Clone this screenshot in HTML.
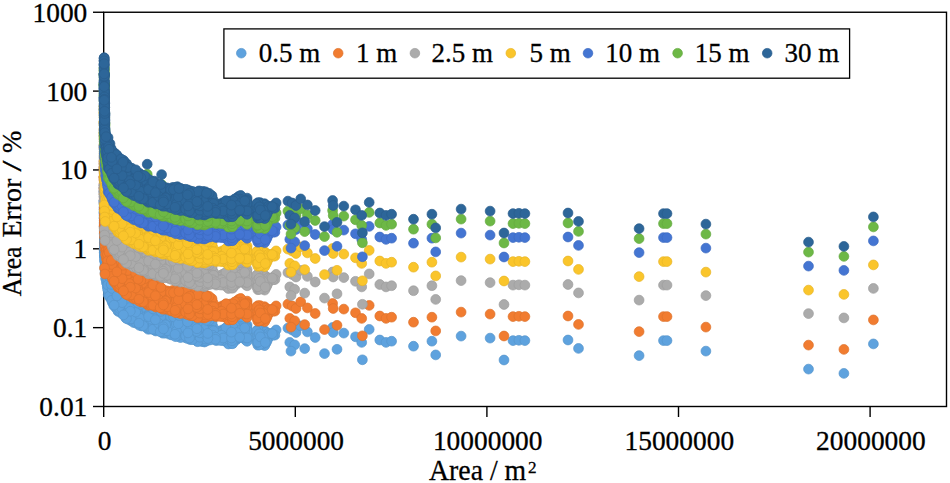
<!DOCTYPE html>
<html><head><meta charset="utf-8"><title>Area Error</title>
<style>
html,body{margin:0;padding:0;background:#fff}
svg{display:block}
text{font-family:"Liberation Serif",serif;fill:#000;stroke:#000;stroke-width:.3px}
circle{stroke-width:.7px}
</style></head><body>
<svg width="950" height="483" viewBox="0 0 950 483">
<rect width="950" height="483" fill="#fff"/>
<defs><g id="p"><circle cx="144.9" cy="192.9" r="4.9"/><circle cx="167.6" cy="197.7" r="4.9"/><circle cx="274.5" cy="205.0" r="4.9"/><circle cx="267.5" cy="212.2" r="4.9"/><circle cx="190.2" cy="212.6" r="4.9"/><circle cx="150.5" cy="200.1" r="4.9"/><circle cx="228.8" cy="205.6" r="4.9"/><circle cx="122.4" cy="160.6" r="4.9"/><circle cx="202.7" cy="202.7" r="4.9"/><circle cx="239.1" cy="202.5" r="4.9"/><circle cx="144.5" cy="180.7" r="4.9"/><circle cx="104.9" cy="112.7" r="4.9"/><circle cx="192.6" cy="202.6" r="4.9"/><circle cx="194.8" cy="192.7" r="4.9"/><circle cx="208.0" cy="213.3" r="4.9"/><circle cx="157.2" cy="198.7" r="4.9"/><circle cx="144.5" cy="183.7" r="4.9"/><circle cx="124.3" cy="167.3" r="4.9"/><circle cx="105.0" cy="146.0" r="4.9"/><circle cx="152.9" cy="194.6" r="4.9"/><circle cx="205.9" cy="201.2" r="4.9"/><circle cx="104.2" cy="75.2" r="4.9"/><circle cx="145.9" cy="189.0" r="4.9"/><circle cx="104.5" cy="94.3" r="4.9"/><circle cx="269.0" cy="210.0" r="4.9"/><circle cx="181.6" cy="190.3" r="4.9"/><circle cx="208.0" cy="208.1" r="4.9"/><circle cx="152.5" cy="190.0" r="4.9"/><circle cx="115.0" cy="165.6" r="4.9"/><circle cx="104.3" cy="103.6" r="4.9"/><circle cx="147.4" cy="192.9" r="4.9"/><circle cx="104.1" cy="73.4" r="4.9"/><circle cx="267.3" cy="210.6" r="4.9"/><circle cx="104.4" cy="93.4" r="4.9"/><circle cx="108.3" cy="156.2" r="4.9"/><circle cx="127.1" cy="177.3" r="4.9"/><circle cx="225.0" cy="211.1" r="4.9"/><circle cx="226.9" cy="212.0" r="4.9"/><circle cx="104.2" cy="85.6" r="4.9"/><circle cx="104.3" cy="105.2" r="4.9"/><circle cx="128.0" cy="182.5" r="4.9"/><circle cx="119.3" cy="179.6" r="4.9"/><circle cx="154.7" cy="186.5" r="4.9"/><circle cx="174.5" cy="203.4" r="4.9"/><circle cx="150.9" cy="196.7" r="4.9"/><circle cx="124.5" cy="177.2" r="4.9"/><circle cx="110.0" cy="143.7" r="4.9"/><circle cx="193.6" cy="200.6" r="4.9"/><circle cx="122.9" cy="169.6" r="4.9"/><circle cx="104.9" cy="122.8" r="4.9"/><circle cx="148.3" cy="202.3" r="4.9"/><circle cx="126.1" cy="175.2" r="4.9"/><circle cx="117.8" cy="166.1" r="4.9"/><circle cx="171.7" cy="200.2" r="4.9"/><circle cx="113.7" cy="178.6" r="4.9"/><circle cx="122.4" cy="178.7" r="4.9"/><circle cx="104.5" cy="130.4" r="4.9"/><circle cx="114.0" cy="168.2" r="4.9"/><circle cx="116.6" cy="160.5" r="4.9"/><circle cx="159.4" cy="193.9" r="4.9"/><circle cx="173.6" cy="191.5" r="4.9"/><circle cx="168.9" cy="205.6" r="4.9"/><circle cx="112.9" cy="156.3" r="4.9"/><circle cx="227.2" cy="205.1" r="4.9"/><circle cx="109.1" cy="167.0" r="4.9"/><circle cx="115.4" cy="163.2" r="4.9"/><circle cx="238.3" cy="199.1" r="4.9"/><circle cx="245.7" cy="213.0" r="4.9"/><circle cx="260.9" cy="204.9" r="4.9"/><circle cx="176.1" cy="192.8" r="4.9"/><circle cx="183.8" cy="202.0" r="4.9"/><circle cx="116.2" cy="167.2" r="4.9"/><circle cx="138.1" cy="183.6" r="4.9"/><circle cx="263.2" cy="205.0" r="4.9"/><circle cx="233.9" cy="210.5" r="4.9"/><circle cx="224.0" cy="209.4" r="4.9"/><circle cx="143.7" cy="194.8" r="4.9"/><circle cx="161.2" cy="193.4" r="4.9"/><circle cx="126.2" cy="181.2" r="4.9"/><circle cx="104.1" cy="88.1" r="4.9"/><circle cx="176.9" cy="206.1" r="4.9"/><circle cx="134.8" cy="183.0" r="4.9"/><circle cx="210.2" cy="208.1" r="4.9"/><circle cx="178.1" cy="193.0" r="4.9"/><circle cx="109.3" cy="159.8" r="4.9"/><circle cx="212.7" cy="212.2" r="4.9"/><circle cx="270.3" cy="208.2" r="4.9"/><circle cx="109.5" cy="158.1" r="4.9"/><circle cx="264.9" cy="209.6" r="4.9"/><circle cx="257.9" cy="205.7" r="4.9"/><circle cx="276.1" cy="202.9" r="4.9"/><circle cx="157.5" cy="186.3" r="4.9"/><circle cx="143.1" cy="192.9" r="4.9"/><circle cx="203.5" cy="210.8" r="4.9"/><circle cx="104.9" cy="118.9" r="4.9"/><circle cx="133.0" cy="192.8" r="4.9"/><circle cx="258.2" cy="210.5" r="4.9"/><circle cx="116.2" cy="178.3" r="4.9"/><circle cx="170.1" cy="198.5" r="4.9"/><circle cx="227.2" cy="201.5" r="4.9"/><circle cx="204.7" cy="208.5" r="4.9"/><circle cx="262.6" cy="207.4" r="4.9"/><circle cx="104.6" cy="97.2" r="4.9"/><circle cx="127.8" cy="180.7" r="4.9"/><circle cx="175.3" cy="195.5" r="4.9"/><circle cx="104.2" cy="93.5" r="4.9"/><circle cx="110.3" cy="171.0" r="4.9"/><circle cx="243.8" cy="210.3" r="4.9"/><circle cx="233.4" cy="205.1" r="4.9"/><circle cx="243.5" cy="206.2" r="4.9"/><circle cx="104.5" cy="123.7" r="4.9"/><circle cx="168.5" cy="191.1" r="4.9"/><circle cx="150.2" cy="186.3" r="4.9"/><circle cx="125.2" cy="184.5" r="4.9"/><circle cx="120.6" cy="170.0" r="4.9"/><circle cx="189.9" cy="190.9" r="4.9"/><circle cx="107.1" cy="142.2" r="4.9"/><circle cx="131.0" cy="193.7" r="4.9"/><circle cx="236.3" cy="212.9" r="4.9"/><circle cx="197.3" cy="209.6" r="4.9"/><circle cx="104.9" cy="120.5" r="4.9"/><circle cx="154.3" cy="181.1" r="4.9"/><circle cx="257.2" cy="205.3" r="4.9"/><circle cx="204.7" cy="192.3" r="4.9"/><circle cx="118.0" cy="171.3" r="4.9"/><circle cx="239.0" cy="197.1" r="4.9"/><circle cx="194.3" cy="203.3" r="4.9"/><circle cx="107.5" cy="139.5" r="4.9"/><circle cx="162.1" cy="197.4" r="4.9"/><circle cx="118.6" cy="164.2" r="4.9"/><circle cx="165.5" cy="206.2" r="4.9"/><circle cx="104.9" cy="116.1" r="4.9"/><circle cx="104.6" cy="103.5" r="4.9"/><circle cx="141.3" cy="188.5" r="4.9"/><circle cx="131.9" cy="187.8" r="4.9"/><circle cx="191.2" cy="196.7" r="4.9"/><circle cx="104.1" cy="123.0" r="4.9"/><circle cx="104.1" cy="84.7" r="4.9"/><circle cx="120.2" cy="166.1" r="4.9"/><circle cx="208.5" cy="204.0" r="4.9"/><circle cx="151.8" cy="188.1" r="4.9"/><circle cx="124.8" cy="162.4" r="4.9"/><circle cx="107.3" cy="159.5" r="4.9"/><circle cx="118.7" cy="168.8" r="4.9"/><circle cx="257.9" cy="208.8" r="4.9"/><circle cx="274.9" cy="208.1" r="4.9"/><circle cx="186.5" cy="199.3" r="4.9"/><circle cx="170.8" cy="204.9" r="4.9"/><circle cx="122.5" cy="166.1" r="4.9"/><circle cx="142.2" cy="185.4" r="4.9"/><circle cx="114.1" cy="158.3" r="4.9"/><circle cx="104.3" cy="107.8" r="4.9"/><circle cx="227.1" cy="215.1" r="4.9"/><circle cx="131.9" cy="174.3" r="4.9"/><circle cx="192.4" cy="191.4" r="4.9"/><circle cx="237.4" cy="209.0" r="4.9"/><circle cx="104.3" cy="80.4" r="4.9"/><circle cx="119.9" cy="175.3" r="4.9"/><circle cx="147.2" cy="200.9" r="4.9"/><circle cx="200.6" cy="194.0" r="4.9"/><circle cx="180.5" cy="204.4" r="4.9"/><circle cx="238.5" cy="196.5" r="4.9"/><circle cx="216.0" cy="204.6" r="4.9"/><circle cx="104.6" cy="113.6" r="4.9"/><circle cx="201.5" cy="209.1" r="4.9"/><circle cx="187.7" cy="192.0" r="4.9"/><circle cx="163.6" cy="205.6" r="4.9"/><circle cx="104.4" cy="96.4" r="4.9"/><circle cx="127.0" cy="165.5" r="4.9"/><circle cx="133.6" cy="195.5" r="4.9"/><circle cx="264.5" cy="203.7" r="4.9"/><circle cx="104.1" cy="65.1" r="4.9"/><circle cx="173.9" cy="187.7" r="4.9"/><circle cx="150.5" cy="198.5" r="4.9"/><circle cx="236.6" cy="198.2" r="4.9"/><circle cx="104.9" cy="134.9" r="4.9"/><circle cx="235.2" cy="204.6" r="4.9"/><circle cx="115.8" cy="176.7" r="4.9"/><circle cx="109.5" cy="151.8" r="4.9"/><circle cx="215.1" cy="206.4" r="4.9"/><circle cx="171.7" cy="197.7" r="4.9"/><circle cx="216.2" cy="213.6" r="4.9"/><circle cx="124.4" cy="179.4" r="4.9"/><circle cx="104.5" cy="123.8" r="4.9"/><circle cx="164.0" cy="197.8" r="4.9"/><circle cx="212.0" cy="197.4" r="4.9"/><circle cx="177.6" cy="191.2" r="4.9"/><circle cx="153.8" cy="197.7" r="4.9"/><circle cx="118.0" cy="177.0" r="4.9"/><circle cx="207.7" cy="195.0" r="4.9"/><circle cx="241.1" cy="197.2" r="4.9"/><circle cx="128.4" cy="192.3" r="4.9"/><circle cx="257.9" cy="211.9" r="4.9"/><circle cx="129.1" cy="177.0" r="4.9"/><circle cx="122.1" cy="172.6" r="4.9"/><circle cx="186.6" cy="196.7" r="4.9"/><circle cx="155.1" cy="200.9" r="4.9"/><circle cx="113.4" cy="172.9" r="4.9"/><circle cx="215.1" cy="208.0" r="4.9"/><circle cx="138.2" cy="191.2" r="4.9"/><circle cx="128.9" cy="187.5" r="4.9"/><circle cx="106.4" cy="155.7" r="4.9"/><circle cx="139.5" cy="188.2" r="4.9"/><circle cx="263.7" cy="214.7" r="4.9"/><circle cx="242.9" cy="200.8" r="4.9"/><circle cx="204.5" cy="215.0" r="4.9"/><circle cx="141.6" cy="199.0" r="4.9"/><circle cx="153.1" cy="200.4" r="4.9"/><circle cx="202.3" cy="212.6" r="4.9"/><circle cx="188.8" cy="198.8" r="4.9"/><circle cx="145.8" cy="177.3" r="4.9"/><circle cx="190.1" cy="203.1" r="4.9"/><circle cx="149.5" cy="182.4" r="4.9"/><circle cx="178.6" cy="194.6" r="4.9"/><circle cx="104.2" cy="85.5" r="4.9"/><circle cx="141.7" cy="190.3" r="4.9"/><circle cx="104.2" cy="82.1" r="4.9"/><circle cx="222.4" cy="202.9" r="4.9"/><circle cx="108.7" cy="145.2" r="4.9"/><circle cx="118.1" cy="184.4" r="4.9"/><circle cx="211.3" cy="201.1" r="4.9"/><circle cx="105.5" cy="139.6" r="4.9"/><circle cx="259.0" cy="204.1" r="4.9"/><circle cx="104.6" cy="123.2" r="4.9"/><circle cx="195.4" cy="207.4" r="4.9"/><circle cx="187.9" cy="208.7" r="4.9"/><circle cx="134.5" cy="173.2" r="4.9"/><circle cx="208.1" cy="200.2" r="4.9"/><circle cx="104.3" cy="77.1" r="4.9"/><circle cx="159.4" cy="200.0" r="4.9"/><circle cx="164.1" cy="190.4" r="4.9"/><circle cx="106.7" cy="145.1" r="4.9"/><circle cx="150.5" cy="180.5" r="4.9"/><circle cx="188.8" cy="200.9" r="4.9"/><circle cx="180.2" cy="198.9" r="4.9"/><circle cx="247.1" cy="212.0" r="4.9"/><circle cx="234.5" cy="202.8" r="4.9"/><circle cx="104.2" cy="57.7" r="4.9"/><circle cx="122.6" cy="183.2" r="4.9"/><circle cx="143.4" cy="187.2" r="4.9"/><circle cx="219.5" cy="211.3" r="4.9"/><circle cx="184.2" cy="204.9" r="4.9"/><circle cx="260.1" cy="202.6" r="4.9"/><circle cx="125.5" cy="182.9" r="4.9"/><circle cx="109.2" cy="165.4" r="4.9"/><circle cx="147.8" cy="182.6" r="4.9"/><circle cx="180.5" cy="207.2" r="4.9"/><circle cx="131.9" cy="170.8" r="4.9"/><circle cx="157.6" cy="184.6" r="4.9"/><circle cx="162.2" cy="195.0" r="4.9"/><circle cx="239.2" cy="204.7" r="4.9"/><circle cx="160.3" cy="203.0" r="4.9"/><circle cx="104.5" cy="114.9" r="4.9"/><circle cx="231.8" cy="203.4" r="4.9"/><circle cx="145.1" cy="190.8" r="4.9"/><circle cx="200.5" cy="196.4" r="4.9"/><circle cx="139.7" cy="180.5" r="4.9"/><circle cx="123.5" cy="185.8" r="4.9"/><circle cx="129.9" cy="185.9" r="4.9"/><circle cx="259.4" cy="214.5" r="4.9"/><circle cx="261.9" cy="212.0" r="4.9"/><circle cx="111.2" cy="152.9" r="4.9"/><circle cx="126.6" cy="163.8" r="4.9"/><circle cx="247.1" cy="198.1" r="4.9"/><circle cx="131.2" cy="181.9" r="4.9"/><circle cx="197.9" cy="193.6" r="4.9"/><circle cx="223.6" cy="207.2" r="4.9"/><circle cx="166.7" cy="193.2" r="4.9"/><circle cx="203.1" cy="191.4" r="4.9"/><circle cx="139.6" cy="173.4" r="4.9"/><circle cx="111.1" cy="148.5" r="4.9"/><circle cx="194.6" cy="194.4" r="4.9"/><circle cx="132.5" cy="185.1" r="4.9"/><circle cx="160.3" cy="195.7" r="4.9"/><circle cx="165.0" cy="192.5" r="4.9"/><circle cx="207.0" cy="197.8" r="4.9"/><circle cx="180.3" cy="196.0" r="4.9"/><circle cx="226.5" cy="207.2" r="4.9"/><circle cx="201.9" cy="199.6" r="4.9"/><circle cx="132.7" cy="176.3" r="4.9"/><circle cx="104.3" cy="89.5" r="4.9"/><circle cx="104.2" cy="95.3" r="4.9"/><circle cx="218.4" cy="206.4" r="4.9"/><circle cx="104.2" cy="60.7" r="4.9"/><circle cx="210.4" cy="195.6" r="4.9"/><circle cx="219.6" cy="204.2" r="4.9"/><circle cx="104.1" cy="73.9" r="4.9"/><circle cx="156.5" cy="189.0" r="4.9"/><circle cx="137.0" cy="194.4" r="4.9"/><circle cx="169.3" cy="200.4" r="4.9"/><circle cx="206.2" cy="202.8" r="4.9"/><circle cx="137.7" cy="173.2" r="4.9"/><circle cx="114.4" cy="154.4" r="4.9"/><circle cx="189.5" cy="195.5" r="4.9"/><circle cx="135.6" cy="171.1" r="4.9"/><circle cx="165.1" cy="187.7" r="4.9"/><circle cx="104.2" cy="84.0" r="4.9"/><circle cx="126.2" cy="179.5" r="4.9"/><circle cx="193.8" cy="209.3" r="4.9"/><circle cx="273.1" cy="208.2" r="4.9"/><circle cx="134.6" cy="178.2" r="4.9"/><circle cx="243.1" cy="202.6" r="4.9"/><circle cx="112.3" cy="175.4" r="4.9"/><circle cx="179.0" cy="209.0" r="4.9"/><circle cx="237.0" cy="201.5" r="4.9"/><circle cx="229.3" cy="203.3" r="4.9"/><circle cx="202.3" cy="214.6" r="4.9"/><circle cx="210.0" cy="197.7" r="4.9"/><circle cx="142.8" cy="182.6" r="4.9"/><circle cx="171.6" cy="192.4" r="4.9"/><circle cx="183.3" cy="192.4" r="4.9"/><circle cx="104.2" cy="73.8" r="4.9"/><circle cx="140.5" cy="175.5" r="4.9"/><circle cx="104.3" cy="115.1" r="4.9"/><circle cx="169.0" cy="203.8" r="4.9"/><circle cx="182.2" cy="205.6" r="4.9"/><circle cx="136.2" cy="192.6" r="4.9"/><circle cx="166.6" cy="189.6" r="4.9"/><circle cx="233.1" cy="206.9" r="4.9"/><circle cx="117.2" cy="162.1" r="4.9"/><circle cx="213.5" cy="200.6" r="4.9"/><circle cx="109.6" cy="154.0" r="4.9"/><circle cx="230.1" cy="214.8" r="4.9"/><circle cx="117.7" cy="156.3" r="4.9"/><circle cx="179.2" cy="201.8" r="4.9"/><circle cx="237.6" cy="210.8" r="4.9"/><circle cx="153.2" cy="192.7" r="4.9"/><circle cx="138.7" cy="178.5" r="4.9"/><circle cx="183.4" cy="196.9" r="4.9"/><circle cx="146.3" cy="195.6" r="4.9"/><circle cx="113.1" cy="171.0" r="4.9"/><circle cx="173.4" cy="205.4" r="4.9"/><circle cx="200.2" cy="202.8" r="4.9"/><circle cx="173.0" cy="194.4" r="4.9"/><circle cx="155.8" cy="195.2" r="4.9"/><circle cx="145.8" cy="197.7" r="4.9"/><circle cx="149.5" cy="184.3" r="4.9"/><circle cx="104.3" cy="104.9" r="4.9"/><circle cx="242.3" cy="198.9" r="4.9"/><circle cx="203.9" cy="197.6" r="4.9"/><circle cx="143.9" cy="177.5" r="4.9"/><circle cx="240.7" cy="195.4" r="4.9"/><circle cx="140.8" cy="192.8" r="4.9"/><circle cx="104.7" cy="109.2" r="4.9"/><circle cx="230.7" cy="207.6" r="4.9"/><circle cx="168.6" cy="195.9" r="4.9"/><circle cx="208.2" cy="202.0" r="4.9"/><circle cx="213.6" cy="210.1" r="4.9"/><circle cx="108.2" cy="167.8" r="4.9"/><circle cx="119.3" cy="161.0" r="4.9"/><circle cx="185.5" cy="210.7" r="4.9"/><circle cx="200.5" cy="214.0" r="4.9"/><circle cx="213.5" cy="205.5" r="4.9"/><circle cx="104.7" cy="113.1" r="4.9"/><circle cx="265.4" cy="205.0" r="4.9"/><circle cx="147.1" cy="186.4" r="4.9"/><circle cx="172.1" cy="203.1" r="4.9"/><circle cx="124.5" cy="169.9" r="4.9"/><circle cx="178.4" cy="203.8" r="4.9"/><circle cx="157.7" cy="202.7" r="4.9"/><circle cx="187.0" cy="201.6" r="4.9"/><circle cx="236.8" cy="203.3" r="4.9"/><circle cx="196.5" cy="198.7" r="4.9"/><circle cx="257.9" cy="218.2" r="4.9"/><circle cx="240.2" cy="199.2" r="4.9"/><circle cx="240.2" cy="200.8" r="4.9"/><circle cx="170.6" cy="195.2" r="4.9"/><circle cx="157.6" cy="191.1" r="4.9"/><circle cx="185.9" cy="194.2" r="4.9"/><circle cx="142.5" cy="175.3" r="4.9"/><circle cx="104.4" cy="94.2" r="4.9"/><circle cx="114.1" cy="152.6" r="4.9"/><circle cx="165.4" cy="203.1" r="4.9"/><circle cx="229.4" cy="211.2" r="4.9"/><circle cx="217.6" cy="208.9" r="4.9"/><circle cx="115.8" cy="180.7" r="4.9"/><circle cx="170.0" cy="193.1" r="4.9"/><circle cx="260.2" cy="216.6" r="4.9"/><circle cx="256.4" cy="212.3" r="4.9"/><circle cx="247.1" cy="204.6" r="4.9"/><circle cx="104.2" cy="64.0" r="4.9"/><circle cx="155.8" cy="204.0" r="4.9"/><circle cx="178.5" cy="207.1" r="4.9"/><circle cx="205.9" cy="214.0" r="4.9"/><circle cx="104.1" cy="80.5" r="4.9"/><circle cx="118.1" cy="181.6" r="4.9"/><circle cx="129.7" cy="167.6" r="4.9"/><circle cx="104.5" cy="118.1" r="4.9"/><circle cx="104.1" cy="69.7" r="4.9"/><circle cx="104.3" cy="91.4" r="4.9"/><circle cx="104.8" cy="107.4" r="4.9"/><circle cx="266.0" cy="216.1" r="4.9"/><circle cx="147.7" cy="178.9" r="4.9"/><circle cx="169.7" cy="207.4" r="4.9"/><circle cx="139.8" cy="186.6" r="4.9"/><circle cx="246.2" cy="208.6" r="4.9"/><circle cx="104.8" cy="103.2" r="4.9"/><circle cx="267.0" cy="213.9" r="4.9"/><circle cx="235.5" cy="210.6" r="4.9"/><circle cx="150.8" cy="190.5" r="4.9"/><circle cx="161.1" cy="191.7" r="4.9"/><circle cx="114.8" cy="161.1" r="4.9"/><circle cx="176.2" cy="201.8" r="4.9"/><circle cx="145.6" cy="199.9" r="4.9"/><circle cx="204.5" cy="194.1" r="4.9"/><circle cx="186.2" cy="206.5" r="4.9"/><circle cx="104.6" cy="102.3" r="4.9"/><circle cx="104.9" cy="114.3" r="4.9"/><circle cx="158.5" cy="189.2" r="4.9"/><circle cx="106.2" cy="149.4" r="4.9"/><circle cx="157.6" cy="193.9" r="4.9"/><circle cx="134.6" cy="188.5" r="4.9"/><circle cx="117.8" cy="183.2" r="4.9"/><circle cx="256.4" cy="210.6" r="4.9"/><circle cx="104.9" cy="129.0" r="4.9"/><circle cx="180.9" cy="192.7" r="4.9"/><circle cx="155.5" cy="198.3" r="4.9"/><circle cx="230.4" cy="201.0" r="4.9"/><circle cx="104.2" cy="90.8" r="4.9"/><circle cx="224.3" cy="202.4" r="4.9"/><circle cx="199.8" cy="212.3" r="4.9"/><circle cx="201.7" cy="204.9" r="4.9"/><circle cx="108.0" cy="163.4" r="4.9"/><circle cx="104.1" cy="61.0" r="4.9"/><circle cx="111.5" cy="150.2" r="4.9"/><circle cx="246.1" cy="205.2" r="4.9"/><circle cx="159.3" cy="191.5" r="4.9"/><circle cx="241.7" cy="210.7" r="4.9"/><circle cx="145.4" cy="186.8" r="4.9"/><circle cx="191.1" cy="209.5" r="4.9"/><circle cx="183.5" cy="209.0" r="4.9"/><circle cx="104.7" cy="111.9" r="4.9"/><circle cx="111.5" cy="168.6" r="4.9"/><circle cx="198.7" cy="199.0" r="4.9"/><circle cx="197.7" cy="211.2" r="4.9"/><circle cx="124.3" cy="165.4" r="4.9"/><circle cx="146.7" cy="184.2" r="4.9"/><circle cx="151.0" cy="202.1" r="4.9"/><circle cx="124.1" cy="172.3" r="4.9"/><circle cx="225.2" cy="214.0" r="4.9"/><circle cx="104.1" cy="65.5" r="4.9"/><circle cx="147.5" cy="199.0" r="4.9"/><circle cx="166.0" cy="200.5" r="4.9"/><circle cx="104.9" cy="141.8" r="4.9"/><circle cx="194.5" cy="212.5" r="4.9"/><circle cx="263.7" cy="217.5" r="4.9"/><circle cx="199.0" cy="207.5" r="4.9"/><circle cx="180.4" cy="194.3" r="4.9"/><circle cx="167.1" cy="205.9" r="4.9"/><circle cx="204.5" cy="203.4" r="4.9"/><circle cx="140.9" cy="197.4" r="4.9"/><circle cx="140.3" cy="182.8" r="4.9"/><circle cx="198.9" cy="196.2" r="4.9"/><circle cx="104.2" cy="90.4" r="4.9"/><circle cx="261.2" cy="214.8" r="4.9"/><circle cx="233.1" cy="215.5" r="4.9"/><circle cx="104.1" cy="67.5" r="4.9"/><circle cx="154.8" cy="183.4" r="4.9"/><circle cx="104.2" cy="82.3" r="4.9"/><circle cx="115.5" cy="171.8" r="4.9"/><circle cx="181.2" cy="202.5" r="4.9"/><circle cx="197.0" cy="206.4" r="4.9"/><circle cx="133.8" cy="170.9" r="4.9"/><circle cx="162.8" cy="187.1" r="4.9"/><circle cx="167.1" cy="187.9" r="4.9"/><circle cx="210.7" cy="199.4" r="4.9"/><circle cx="106.2" cy="147.6" r="4.9"/><circle cx="137.2" cy="188.4" r="4.9"/><circle cx="160.9" cy="184.8" r="4.9"/><circle cx="175.3" cy="200.0" r="4.9"/><circle cx="139.9" cy="184.6" r="4.9"/><circle cx="264.9" cy="211.4" r="4.9"/><circle cx="124.4" cy="174.7" r="4.9"/><circle cx="246.3" cy="201.1" r="4.9"/><circle cx="128.5" cy="190.0" r="4.9"/><circle cx="104.9" cy="128.9" r="4.9"/><circle cx="204.6" cy="199.3" r="4.9"/><circle cx="181.3" cy="209.0" r="4.9"/><circle cx="121.6" cy="186.4" r="4.9"/><circle cx="187.5" cy="211.5" r="4.9"/><circle cx="121.1" cy="163.5" r="4.9"/><circle cx="197.9" cy="213.9" r="4.9"/><circle cx="197.6" cy="214.7" r="4.9"/><circle cx="200.9" cy="192.3" r="4.9"/><circle cx="221.9" cy="205.1" r="4.9"/><circle cx="130.9" cy="177.7" r="4.9"/><circle cx="193.2" cy="197.4" r="4.9"/><circle cx="119.6" cy="183.9" r="4.9"/><circle cx="235.1" cy="208.7" r="4.9"/><circle cx="246.7" cy="200.2" r="4.9"/><circle cx="205.7" cy="210.2" r="4.9"/><circle cx="264.7" cy="218.6" r="4.9"/><circle cx="120.4" cy="172.1" r="4.9"/><circle cx="104.3" cy="103.0" r="4.9"/><circle cx="130.4" cy="189.8" r="4.9"/><circle cx="177.7" cy="198.8" r="4.9"/><circle cx="119.8" cy="181.7" r="4.9"/><circle cx="205.9" cy="212.1" r="4.9"/><circle cx="231.3" cy="216.5" r="4.9"/><circle cx="129.9" cy="171.9" r="4.9"/><circle cx="109.7" cy="162.9" r="4.9"/><circle cx="142.4" cy="180.3" r="4.9"/><circle cx="238.5" cy="206.8" r="4.9"/><circle cx="210.5" cy="205.4" r="4.9"/><circle cx="191.3" cy="204.8" r="4.9"/><circle cx="116.0" cy="154.8" r="4.9"/><circle cx="112.8" cy="166.0" r="4.9"/><circle cx="108.7" cy="143.5" r="4.9"/><circle cx="219.2" cy="208.2" r="4.9"/><circle cx="138.8" cy="193.6" r="4.9"/><circle cx="164.6" cy="194.9" r="4.9"/><circle cx="226.9" cy="209.8" r="4.9"/><circle cx="104.4" cy="92.0" r="4.9"/><circle cx="119.9" cy="177.0" r="4.9"/><circle cx="151.9" cy="184.6" r="4.9"/><circle cx="265.4" cy="207.8" r="4.9"/><circle cx="104.1" cy="64.5" r="4.9"/><circle cx="233.9" cy="213.6" r="4.9"/><circle cx="136.2" cy="177.9" r="4.9"/><circle cx="186.5" cy="203.3" r="4.9"/><circle cx="104.9" cy="115.0" r="4.9"/><circle cx="104.1" cy="77.6" r="4.9"/><circle cx="131.7" cy="168.2" r="4.9"/><circle cx="104.9" cy="134.0" r="4.9"/><circle cx="212.0" cy="195.7" r="4.9"/><circle cx="268.5" cy="206.3" r="4.9"/><circle cx="183.4" cy="189.5" r="4.9"/><circle cx="171.9" cy="208.0" r="4.9"/><circle cx="176.0" cy="191.1" r="4.9"/><circle cx="104.7" cy="117.7" r="4.9"/><circle cx="135.1" cy="175.5" r="4.9"/><circle cx="106.7" cy="153.6" r="4.9"/><circle cx="108.1" cy="137.6" r="4.9"/><circle cx="195.1" cy="196.3" r="4.9"/><circle cx="174.6" cy="197.4" r="4.9"/><circle cx="104.2" cy="86.4" r="4.9"/><circle cx="104.9" cy="133.7" r="4.9"/><circle cx="128.6" cy="174.9" r="4.9"/><circle cx="104.3" cy="106.3" r="4.9"/><circle cx="217.2" cy="212.1" r="4.9"/><circle cx="247.1" cy="207.8" r="4.9"/><circle cx="125.2" cy="188.9" r="4.9"/><circle cx="162.8" cy="206.2" r="4.9"/><circle cx="180.5" cy="210.6" r="4.9"/><circle cx="247.1" cy="201.4" r="4.9"/><circle cx="221.1" cy="211.0" r="4.9"/><circle cx="177.4" cy="186.7" r="4.9"/><circle cx="131.7" cy="179.5" r="4.9"/><circle cx="247.1" cy="214.3" r="4.9"/><circle cx="125.8" cy="190.9" r="4.9"/><circle cx="105.6" cy="151.4" r="4.9"/><circle cx="192.5" cy="212.6" r="4.9"/><circle cx="107.4" cy="151.2" r="4.9"/><circle cx="182.9" cy="207.4" r="4.9"/><circle cx="185.6" cy="190.3" r="4.9"/><circle cx="270.6" cy="206.6" r="4.9"/><circle cx="150.8" cy="195.0" r="4.9"/><circle cx="228.4" cy="217.0" r="4.9"/><circle cx="161.2" cy="200.2" r="4.9"/><circle cx="104.5" cy="112.4" r="4.9"/><circle cx="104.2" cy="125.7" r="4.9"/><circle cx="132.8" cy="189.5" r="4.9"/><circle cx="104.2" cy="96.9" r="4.9"/><circle cx="130.0" cy="169.6" r="4.9"/><circle cx="137.1" cy="179.6" r="4.9"/><circle cx="172.7" cy="187.5" r="4.9"/><circle cx="117.9" cy="158.8" r="4.9"/><circle cx="211.9" cy="203.3" r="4.9"/><circle cx="177.2" cy="209.2" r="4.9"/><circle cx="136.4" cy="196.2" r="4.9"/><circle cx="213.6" cy="203.8" r="4.9"/><circle cx="104.6" cy="98.5" r="4.9"/><circle cx="111.1" cy="165.1" r="4.9"/><circle cx="262.1" cy="217.3" r="4.9"/><circle cx="180.8" cy="188.5" r="4.9"/><circle cx="257.9" cy="202.6" r="4.9"/><circle cx="202.1" cy="206.7" r="4.9"/><circle cx="104.6" cy="117.6" r="4.9"/><circle cx="193.5" cy="207.3" r="4.9"/><circle cx="123.4" cy="181.1" r="4.9"/><circle cx="105.3" cy="134.7" r="4.9"/><circle cx="182.5" cy="194.5" r="4.9"/><circle cx="104.1" cy="58.6" r="4.9"/><circle cx="104.4" cy="128.7" r="4.9"/><circle cx="136.1" cy="190.5" r="4.9"/><circle cx="149.1" cy="193.6" r="4.9"/><circle cx="259.5" cy="217.9" r="4.9"/><circle cx="105.4" cy="132.5" r="4.9"/><circle cx="205.9" cy="195.7" r="4.9"/><circle cx="188.3" cy="204.2" r="4.9"/><circle cx="187.6" cy="189.9" r="4.9"/><circle cx="179.5" cy="190.6" r="4.9"/><circle cx="104.5" cy="94.3" r="4.9"/><circle cx="204.7" cy="206.1" r="4.9"/><circle cx="154.6" cy="203.0" r="4.9"/><circle cx="222.3" cy="213.6" r="4.9"/><circle cx="104.1" cy="76.3" r="4.9"/><circle cx="121.8" cy="181.2" r="4.9"/><circle cx="141.3" cy="195.0" r="4.9"/><circle cx="148.4" cy="195.5" r="4.9"/><circle cx="104.2" cy="91.7" r="4.9"/><circle cx="229.8" cy="213.0" r="4.9"/><circle cx="175.8" cy="189.4" r="4.9"/><circle cx="152.9" cy="202.2" r="4.9"/><circle cx="256.9" cy="215.5" r="4.9"/><circle cx="244.6" cy="208.2" r="4.9"/><circle cx="104.5" cy="122.3" r="4.9"/><circle cx="144.5" cy="175.7" r="4.9"/><circle cx="219.9" cy="213.4" r="4.9"/><circle cx="232.6" cy="216.7" r="4.9"/><circle cx="104.3" cy="97.0" r="4.9"/><circle cx="111.0" cy="166.9" r="4.9"/><circle cx="167.6" cy="201.1" r="4.9"/><circle cx="127.4" cy="184.8" r="4.9"/><circle cx="143.8" cy="196.7" r="4.9"/><circle cx="241.0" cy="207.7" r="4.9"/><circle cx="235.1" cy="206.6" r="4.9"/><circle cx="151.4" cy="192.2" r="4.9"/><circle cx="173.5" cy="200.7" r="4.9"/><circle cx="205.5" cy="191.8" r="4.9"/><circle cx="139.4" cy="198.3" r="4.9"/><circle cx="137.6" cy="185.5" r="4.9"/><circle cx="114.5" cy="174.6" r="4.9"/><circle cx="160.5" cy="186.4" r="4.9"/><circle cx="202.8" cy="195.9" r="4.9"/><circle cx="258.9" cy="212.7" r="4.9"/><circle cx="199.9" cy="210.2" r="4.9"/><circle cx="245.5" cy="210.8" r="4.9"/><circle cx="127.9" cy="170.9" r="4.9"/><circle cx="104.2" cy="74.8" r="4.9"/><circle cx="184.5" cy="207.1" r="4.9"/><circle cx="110.9" cy="155.7" r="4.9"/><circle cx="185.7" cy="209.1" r="4.9"/><circle cx="256.4" cy="204.0" r="4.9"/><circle cx="176.2" cy="187.4" r="4.9"/><circle cx="104.9" cy="132.2" r="4.9"/><circle cx="126.2" cy="173.4" r="4.9"/><circle cx="257.8" cy="208.6" r="4.9"/><circle cx="143.3" cy="190.9" r="4.9"/><circle cx="107.6" cy="161.6" r="4.9"/><circle cx="104.2" cy="99.8" r="4.9"/><circle cx="134.4" cy="191.1" r="4.9"/><circle cx="166.4" cy="195.8" r="4.9"/><circle cx="104.1" cy="58.2" r="4.9"/><circle cx="140.0" cy="191.1" r="4.9"/><circle cx="210.5" cy="210.5" r="4.9"/><circle cx="168.9" cy="189.0" r="4.9"/><circle cx="154.1" cy="189.6" r="4.9"/><circle cx="202.5" cy="193.4" r="4.9"/><circle cx="190.5" cy="198.4" r="4.9"/><circle cx="162.0" cy="204.9" r="4.9"/><circle cx="182.5" cy="199.9" r="4.9"/><circle cx="234.8" cy="198.9" r="4.9"/><circle cx="115.8" cy="158.5" r="4.9"/><circle cx="123.7" cy="160.5" r="4.9"/><circle cx="104.5" cy="123.5" r="4.9"/><circle cx="116.4" cy="154.6" r="4.9"/><circle cx="131.2" cy="191.9" r="4.9"/><circle cx="104.7" cy="127.7" r="4.9"/><circle cx="104.9" cy="130.0" r="4.9"/><circle cx="247.1" cy="203.6" r="4.9"/><circle cx="263.1" cy="210.0" r="4.9"/><circle cx="125.9" cy="167.9" r="4.9"/><circle cx="194.0" cy="205.5" r="4.9"/><circle cx="104.8" cy="132.7" r="4.9"/><circle cx="112.3" cy="159.1" r="4.9"/><circle cx="104.7" cy="120.2" r="4.9"/><circle cx="104.1" cy="74.5" r="4.9"/><circle cx="231.8" cy="209.2" r="4.9"/><circle cx="190.9" cy="207.7" r="4.9"/><circle cx="104.4" cy="99.3" r="4.9"/><circle cx="225.2" cy="204.5" r="4.9"/><circle cx="272.2" cy="206.6" r="4.9"/><circle cx="244.7" cy="203.6" r="4.9"/><circle cx="104.9" cy="139.1" r="4.9"/><circle cx="167.4" cy="203.8" r="4.9"/><circle cx="203.6" cy="201.0" r="4.9"/><circle cx="128.0" cy="167.4" r="4.9"/><circle cx="233.2" cy="200.9" r="4.9"/><circle cx="185.8" cy="189.3" r="4.9"/><circle cx="160.2" cy="204.7" r="4.9"/><circle cx="161.0" cy="189.2" r="4.9"/><circle cx="190.7" cy="201.4" r="4.9"/><circle cx="257.9" cy="215.1" r="4.9"/><circle cx="197.3" cy="196.3" r="4.9"/><circle cx="113.3" cy="163.3" r="4.9"/><circle cx="206.3" cy="208.6" r="4.9"/><circle cx="210.4" cy="212.9" r="4.9"/><circle cx="241.6" cy="205.4" r="4.9"/><circle cx="137.1" cy="181.6" r="4.9"/><circle cx="104.2" cy="86.6" r="4.9"/><circle cx="241.1" cy="202.9" r="4.9"/><circle cx="104.2" cy="76.1" r="4.9"/><circle cx="135.5" cy="180.8" r="4.9"/><circle cx="226.0" cy="200.7" r="4.9"/><circle cx="236.9" cy="205.6" r="4.9"/><circle cx="108.4" cy="147.0" r="4.9"/><circle cx="170.6" cy="189.7" r="4.9"/><circle cx="176.4" cy="197.1" r="4.9"/><circle cx="199.8" cy="205.8" r="4.9"/><circle cx="247.1" cy="211.0" r="4.9"/><circle cx="109.0" cy="149.3" r="4.9"/><circle cx="133.4" cy="181.3" r="4.9"/><circle cx="158.6" cy="196.3" r="4.9"/><circle cx="106.1" cy="136.7" r="4.9"/><circle cx="173.5" cy="189.7" r="4.9"/><circle cx="148.6" cy="189.5" r="4.9"/><circle cx="244.7" cy="200.9" r="4.9"/><circle cx="117.3" cy="173.8" r="4.9"/><circle cx="221.4" cy="208.3" r="4.9"/><circle cx="198.5" cy="203.0" r="4.9"/><circle cx="104.3" cy="106.2" r="4.9"/><circle cx="135.7" cy="185.1" r="4.9"/><circle cx="199.2" cy="190.9" r="4.9"/><circle cx="153.0" cy="181.9" r="4.9"/><circle cx="109.4" cy="169.1" r="4.9"/><circle cx="212.6" cy="208.2" r="4.9"/><circle cx="143.2" cy="198.8" r="4.9"/><circle cx="196.6" cy="204.4" r="4.9"/><circle cx="129.5" cy="180.6" r="4.9"/><circle cx="104.1" cy="60.9" r="4.9"/><circle cx="126.3" cy="186.7" r="4.9"/><circle cx="107.8" cy="157.9" r="4.9"/><circle cx="126.5" cy="191.5" r="4.9"/><circle cx="192.6" cy="194.6" r="4.9"/><circle cx="121.3" cy="167.7" r="4.9"/><circle cx="130.3" cy="184.2" r="4.9"/><circle cx="197.7" cy="191.7" r="4.9"/><circle cx="160.8" cy="184.4" r="4.9"/><circle cx="140.8" cy="177.4" r="4.9"/><circle cx="104.7" cy="113.5" r="4.9"/><circle cx="209.2" cy="193.4" r="4.9"/><circle cx="223.2" cy="211.0" r="4.9"/><circle cx="165.6" cy="197.9" r="4.9"/><circle cx="189.5" cy="193.3" r="4.9"/><circle cx="104.2" cy="100.2" r="4.9"/><circle cx="138.9" cy="196.2" r="4.9"/><circle cx="135.7" cy="169.8" r="4.9"/><circle cx="259.2" cy="206.8" r="4.9"/><circle cx="123.4" cy="187.9" r="4.9"/><circle cx="175.5" cy="209.6" r="4.9"/><circle cx="232.1" cy="213.7" r="4.9"/><circle cx="231.5" cy="211.0" r="4.9"/><circle cx="122.1" cy="175.6" r="4.9"/><circle cx="260.3" cy="209.9" r="4.9"/><circle cx="176.4" cy="204.1" r="4.9"/><circle cx="265.3" cy="215.5" r="4.9"/><circle cx="175.1" cy="207.3" r="4.9"/><circle cx="121.0" cy="159.0" r="4.9"/><circle cx="215.6" cy="210.3" r="4.9"/><circle cx="138.1" cy="176.1" r="4.9"/><circle cx="178.3" cy="196.8" r="4.9"/><circle cx="163.3" cy="199.8" r="4.9"/><circle cx="179.0" cy="188.5" r="4.9"/><circle cx="112.1" cy="161.5" r="4.9"/><circle cx="122.9" cy="162.2" r="4.9"/><circle cx="111.7" cy="173.3" r="4.9"/><circle cx="155.4" cy="192.7" r="4.9"/><circle cx="104.6" cy="111.3" r="4.9"/><circle cx="206.5" cy="193.3" r="4.9"/><circle cx="104.2" cy="73.9" r="4.9"/><circle cx="215.4" cy="212.3" r="4.9"/><circle cx="189.5" cy="211.1" r="4.9"/><circle cx="207.9" cy="211.5" r="4.9"/><circle cx="187.5" cy="194.8" r="4.9"/><circle cx="231.4" cy="205.1" r="4.9"/><circle cx="163.4" cy="201.9" r="4.9"/><circle cx="207.7" cy="206.4" r="4.9"/><circle cx="111.3" cy="157.4" r="4.9"/><circle cx="114.1" cy="178.1" r="4.9"/><circle cx="116.9" cy="168.9" r="4.9"/><circle cx="196.9" cy="201.7" r="4.9"/><circle cx="188.0" cy="205.9" r="4.9"/><circle cx="104.1" cy="63.7" r="4.9"/><circle cx="239.7" cy="210.3" r="4.9"/><circle cx="147.2" cy="164.2" r="4.9"/><circle cx="161.6" cy="174.6" r="4.9"/><circle cx="287.9" cy="201.1" r="4.9"/><circle cx="292.2" cy="203.0" r="4.9"/><circle cx="296.0" cy="205.5" r="4.9"/><circle cx="300.7" cy="198.9" r="4.9"/><circle cx="307.4" cy="204.9" r="4.9"/><circle cx="315.2" cy="210.5" r="4.9"/><circle cx="289.8" cy="215.4" r="4.9"/><circle cx="294.7" cy="217.9" r="4.9"/><circle cx="291.0" cy="224.1" r="4.9"/><circle cx="304.7" cy="221.6" r="4.9"/><circle cx="324.5" cy="226.6" r="4.9"/><circle cx="332.6" cy="200.5" r="4.9"/><circle cx="333.2" cy="205.5" r="4.9"/><circle cx="343.8" cy="206.1" r="4.9"/><circle cx="337.0" cy="222.3" r="4.9"/><circle cx="355.5" cy="209.8" r="4.9"/><circle cx="361.7" cy="215.4" r="4.9"/><circle cx="369.2" cy="202.4" r="4.9"/><circle cx="379.8" cy="213.0" r="4.9"/><circle cx="386.0" cy="215.4" r="4.9"/><circle cx="391.6" cy="214.2" r="4.9"/><circle cx="413.5" cy="219.2" r="4.9"/><circle cx="431.9" cy="214.2" r="4.9"/><circle cx="435.7" cy="227.9" r="4.9"/><circle cx="362.4" cy="232.8" r="4.9"/><circle cx="461.1" cy="209.1" r="4.9"/><circle cx="490.1" cy="211.1" r="4.9"/><circle cx="504.0" cy="233.0" r="4.9"/><circle cx="513.0" cy="213.6" r="4.9"/><circle cx="518.9" cy="213.3" r="4.9"/><circle cx="524.9" cy="213.6" r="4.9"/><circle cx="568.0" cy="213.0" r="4.9"/><circle cx="578.5" cy="221.4" r="4.9"/><circle cx="639.1" cy="228.6" r="4.9"/><circle cx="663.5" cy="213.6" r="4.9"/><circle cx="667.0" cy="213.6" r="4.9"/><circle cx="705.9" cy="224.1" r="4.9"/><circle cx="808.5" cy="242.1" r="4.9"/><circle cx="843.9" cy="246.4" r="4.9"/><circle cx="873.4" cy="216.9" r="4.9"/></g></defs>

<g stroke="#000" stroke-width="1.4" fill="none">
<rect x="103.7" y="12.25" width="842.8" height="394.25"/>
<line x1="93" y1="12.25" x2="103.7" y2="12.25"/>
<line x1="93" y1="91.10" x2="103.7" y2="91.10"/>
<line x1="93" y1="169.95" x2="103.7" y2="169.95"/>
<line x1="93" y1="248.80" x2="103.7" y2="248.80"/>
<line x1="93" y1="327.65" x2="103.7" y2="327.65"/>
<line x1="93" y1="406.50" x2="103.7" y2="406.50"/>
<line x1="103.70" y1="406.5" x2="103.70" y2="417"/>
<line x1="295.30" y1="406.5" x2="295.30" y2="417"/>
<line x1="486.90" y1="406.5" x2="486.90" y2="417"/>
<line x1="678.50" y1="406.5" x2="678.50" y2="417"/>
<line x1="870.10" y1="406.5" x2="870.10" y2="417"/>
</g>
<use href="#p" fill="#5EA2DE" stroke="#5695CC" transform="translate(0,127.0)"/>
<use href="#p" fill="#F17C30" stroke="#DD722C" transform="translate(0,103.0)"/>
<circle cx="104.5" cy="268.0" r="4.9" fill="#F17C30" stroke="#DD722C"/>
<circle cx="105.0" cy="274.0" r="4.9" fill="#F17C30" stroke="#DD722C"/>
<use href="#p" fill="#ABABAB" stroke="#9D9D9D" transform="translate(0,71.5)"/>
<circle cx="104.3" cy="229.0" r="4.9" fill="#ABABAB" stroke="#9D9D9D"/>
<circle cx="104.6" cy="235.0" r="4.9" fill="#ABABAB" stroke="#9D9D9D"/>
<circle cx="105.0" cy="240.5" r="4.9" fill="#ABABAB" stroke="#9D9D9D"/>
<use href="#p" fill="#FAC52B" stroke="#E6B527" transform="translate(0,48.0)"/>
<circle cx="104.3" cy="205.0" r="4.9" fill="#FAC52B" stroke="#E6B527"/>
<circle cx="104.5" cy="211.0" r="4.9" fill="#FAC52B" stroke="#E6B527"/>
<circle cx="104.8" cy="217.0" r="4.9" fill="#FAC52B" stroke="#E6B527"/>
<circle cx="105.3" cy="221.5" r="4.9" fill="#FAC52B" stroke="#E6B527"/>
<use href="#p" fill="#4475D2" stroke="#3E6BC1" transform="translate(0,24.0)"/>
<use href="#p" fill="#6DB846" stroke="#64A940" transform="translate(0,10.0)"/>
<use href="#p" fill="#2D6699" stroke="#295D8C" transform="translate(0,0.0)"/>
<text x="87.3" y="21.8" font-size="27.4" text-anchor="end">1000</text>
<text x="87.3" y="100.6" font-size="27.4" text-anchor="end">100</text>
<text x="87.3" y="179.4" font-size="27.4" text-anchor="end">10</text>
<text x="87.3" y="258.3" font-size="27.4" text-anchor="end">1</text>
<text x="87.3" y="337.1" font-size="27.4" text-anchor="end">0.1</text>
<text x="87.3" y="416.0" font-size="27.4" text-anchor="end">0.01</text>
<text x="104.5" y="449.9" font-size="27.4" text-anchor="middle">0</text>
<text x="296.1" y="449.9" font-size="27.4" text-anchor="middle">5000000</text>
<text x="487.7" y="449.9" font-size="27.4" text-anchor="middle">10000000</text>
<text x="679.3" y="449.9" font-size="27.4" text-anchor="middle">15000000</text>
<text x="870.9" y="449.9" font-size="27.4" text-anchor="middle">20000000</text>
<g transform="translate(429,480) scale(0.945,1)"><text x="0" y="0" font-size="29.4">Area / m</text></g>
<text x="528" y="472.9" font-size="17.2">2</text>
<text transform="translate(21.2,296.3) rotate(-90)" font-size="28" textLength="49.6" lengthAdjust="spacingAndGlyphs">Area</text>
<text transform="translate(21.2,237.6) rotate(-90)" font-size="28" textLength="59.0" lengthAdjust="spacingAndGlyphs">Error</text>
<text transform="translate(21.2,171.6) rotate(-90)" font-size="28" textLength="11.0" lengthAdjust="spacingAndGlyphs">/</text>
<text transform="translate(21.2,153.0) rotate(-90)" font-size="28" textLength="22.3" lengthAdjust="spacingAndGlyphs">%</text>
<rect x="223.9" y="28.9" width="625.7" height="49.3" fill="#fff" stroke="#000" stroke-width="1.3"/>
<circle cx="241.3" cy="53.2" r="4.8" fill="#5EA2DE" stroke="#5695CC"/>
<text x="258.8" y="62" font-size="27">0.5 m</text>
<circle cx="338.2" cy="53.2" r="4.8" fill="#F17C30" stroke="#DD722C"/>
<text x="355.9" y="62" font-size="27">1 m</text>
<circle cx="414.9" cy="53.2" r="4.8" fill="#ABABAB" stroke="#9D9D9D"/>
<text x="431.5" y="62" font-size="27">2.5 m</text>
<circle cx="510.8" cy="53.2" r="4.8" fill="#FAC52B" stroke="#E6B527"/>
<text x="529.6" y="62" font-size="27">5 m</text>
<circle cx="588.0" cy="53.2" r="4.8" fill="#4475D2" stroke="#3E6BC1"/>
<text x="605.3" y="62" font-size="27">10 m</text>
<circle cx="677.6" cy="53.2" r="4.8" fill="#6DB846" stroke="#64A940"/>
<text x="694.8" y="62" font-size="27">15 m</text>
<circle cx="767.2" cy="53.2" r="4.8" fill="#2D6699" stroke="#295D8C"/>
<text x="784.6" y="62" font-size="27">30 m</text>
</svg></body></html>
